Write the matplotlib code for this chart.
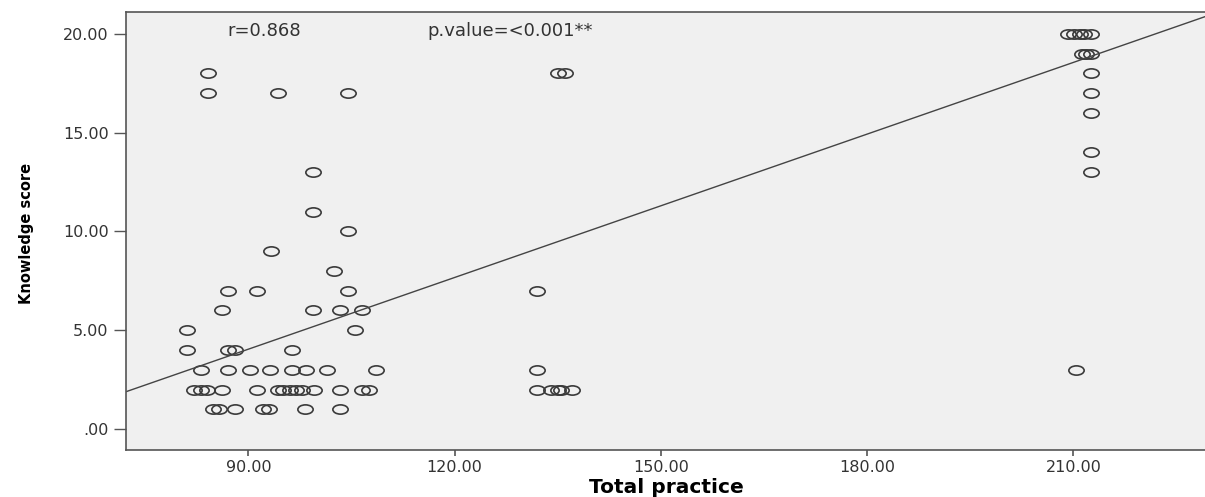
import numpy as np
import matplotlib
matplotlib.use("Agg")
import matplotlib.pyplot as plt
from matplotlib.path import Path
from matplotlib.transforms import Affine2D

# Total practice / Knowledge score
practice = [
    84.2, 84.2, 94.3, 104.5,
    99.4, 99.4, 104.5, 93.3, 102.4,
    87.1, 91.2, 104.5,
    86.1, 99.4, 103.4, 106.6,
    81.1, 105.5,
    81.1, 87.1, 88.1, 96.4,
    83.1, 87.1, 90.3, 93.2, 96.4, 98.4, 101.5, 108.6,
    82.1, 83.1, 84.0, 86.2, 91.3, 94.3, 95.1, 96.0, 97.0, 97.8, 99.5, 103.4, 106.6, 107.5,
    84.9, 85.7, 88.1, 92.2, 93.0, 98.3, 103.4,
    135.0, 136.0, 132.0, 132.0,
    132.0, 134.0, 135.0, 135.5, 137.1,
    209.2, 210.1, 210.9, 211.6, 212.5,
    211.2, 211.9, 212.5,
    212.5, 212.5, 212.5, 212.5, 212.5,
    210.4,
]
knowledge = [
    18, 17, 17, 17,
    13, 11, 10, 9, 8,
    7, 7, 7,
    6, 6, 6, 6,
    5, 5,
    4, 4, 4, 4,
    3, 3, 3, 3, 3, 3, 3, 3,
    2, 2, 2, 2, 2, 2, 2, 2, 2, 2, 2, 2, 2, 2,
    1, 1, 1, 1, 1, 1, 1,
    18, 18, 7, 3,
    2, 2, 2, 2, 2,
    20, 20, 20, 20, 20,
    19, 19, 19,
    18, 17, 16, 14, 13,
    3,
]

# fit line as drawn in the original output
fit_intercept = -6.84
fit_slope = 0.1209

x_ticks = [90, 120, 150, 180, 210]
y_ticks = [0, 5, 10, 15, 20]

r_text = "r=0.868"
p_text = "p.value=<0.001**"


def fmt(v):
    s = "%.2f" % v
    return s[1:] if s.startswith("0") else s


fig = plt.figure(figsize=(12.05, 4.97), dpi=100)
ax = fig.add_axes([126 / 1205, 47 / 497, 1 - 126 / 1205 + 0.002, (450 - 12) / 497])
ax.set_facecolor("#f0f0f0")

# SPSS style wide open circles
ellipse = Path.unit_circle().transformed(Affine2D().scale(1.65, 1.0))
ax.plot(practice, knowledge, linestyle="none", marker=ellipse, markersize=11,
        markerfacecolor="none", markeredgecolor="#3a3a3a", markeredgewidth=1.2)

xl = (72.2, 229.5)
xs = np.array(xl)
ax.plot(xs, fit_intercept + fit_slope * xs, color="#444444", linewidth=1.0)

ax.set_xlim(xl)
ax.set_ylim(-1.06, 21.1)

ax.set_xticks(x_ticks)
ax.set_xticklabels([fmt(v) for v in x_ticks])
ax.set_yticks(y_ticks)
ax.set_yticklabels([fmt(v) for v in y_ticks])

for s in ax.spines.values():
    s.set_color("#555555")
    s.set_linewidth(1.2)
ax.spines["right"].set_visible(False)

ax.tick_params(axis="y", direction="out", length=9, width=1.0, color="#555555",
               labelsize=11.5, labelcolor="#333333", pad=3.5)
ax.tick_params(axis="x", direction="out", length=4.5, width=1.2, color="#555555",
               labelsize=11.5, labelcolor="#333333", pad=3)

ax.text(86.9, 20.14, r_text, fontsize=13, color="#333333", va="center", ha="left")
ax.text(116.1, 20.14, p_text, fontsize=13, color="#333333", va="center", ha="left")

ax.set_xlabel("Total practice", fontsize=14.5, fontweight="bold", labelpad=2)
fig.text(26 / 1205, 1 - 233 / 497, "Knowledge score", rotation=90, ha="center", va="center",
         fontsize=10.5, fontweight="bold")

fig.savefig("out.png", dpi=100)
